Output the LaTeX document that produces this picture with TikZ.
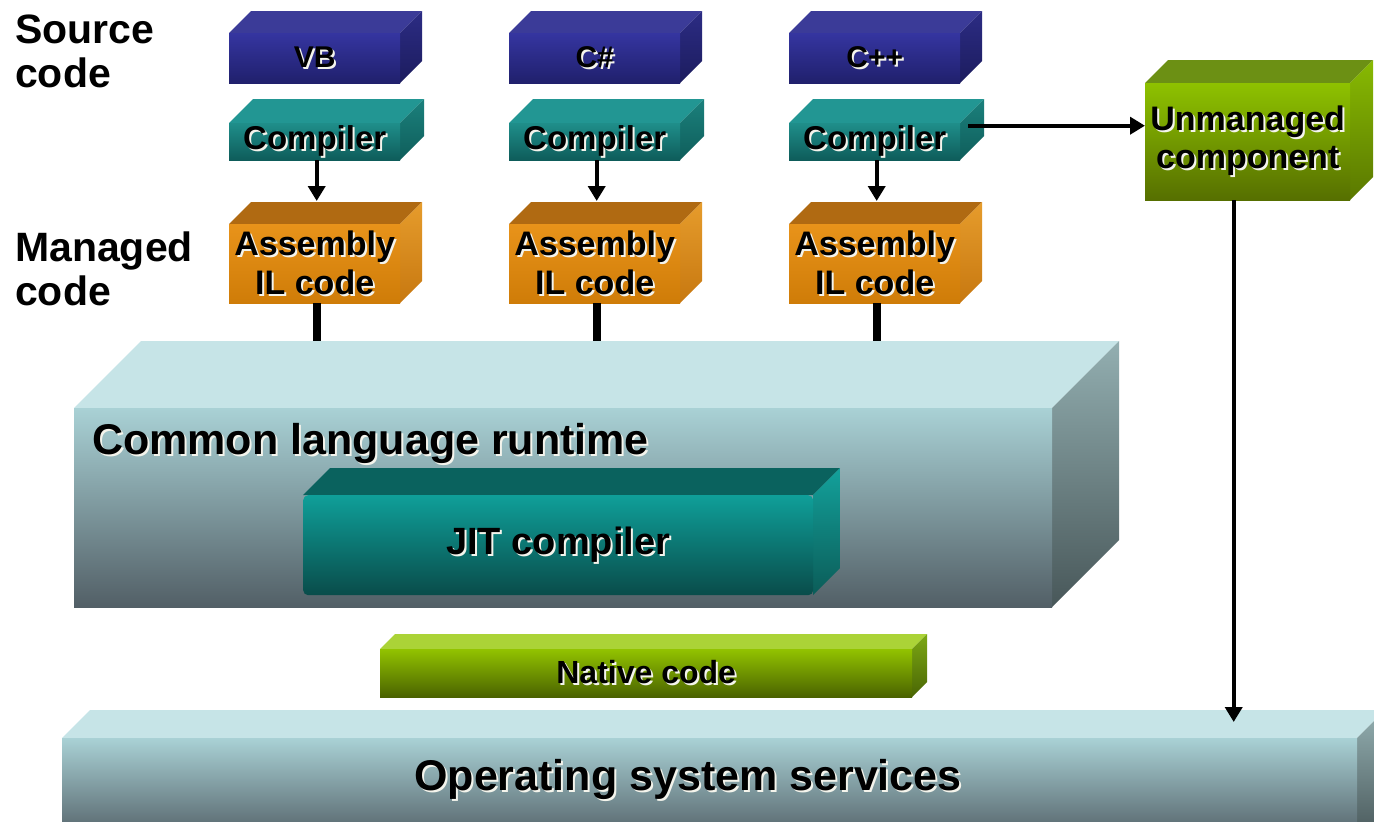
\documentclass[tikz,border=0pt]{standalone}
\usepackage{fontspec}
\setmainfont{Liberation Sans}
\usetikzlibrary{arrows.meta,calc}
\definecolor{shadowc}{HTML}{F4F4EC}
\definecolor{navyT}{HTML}{3B3B98}
\definecolor{navyS1}{HTML}{2C2C84}
\definecolor{navyS2}{HTML}{1C1C5E}
\definecolor{navyF1}{HTML}{3535A0}
\definecolor{navyF2}{HTML}{20206C}
\definecolor{tealT}{HTML}{229693}
\definecolor{tealS1}{HTML}{1B807C}
\definecolor{tealS2}{HTML}{0F5E5B}
\definecolor{tealF1}{HTML}{1F8E8A}
\definecolor{tealF2}{HTML}{0E5C5A}
\definecolor{orgT}{HTML}{B06A12}
\definecolor{orgS1}{HTML}{E69C2C}
\definecolor{orgS2}{HTML}{C77810}
\definecolor{orgF1}{HTML}{E8931A}
\definecolor{orgF2}{HTML}{CF7C08}
\definecolor{limeT}{HTML}{6C9014}
\definecolor{limeS1}{HTML}{88BA02}
\definecolor{limeS2}{HTML}{5A7800}
\definecolor{limeF1}{HTML}{8EC200}
\definecolor{limeF2}{HTML}{566F00}
\definecolor{clrT}{HTML}{C6E4E7}
\definecolor{clrS1}{HTML}{93AFB1}
\definecolor{clrS2}{HTML}{485759}
\definecolor{clrF1}{HTML}{A9D1D5}
\definecolor{clrF2}{HTML}{525F66}
\definecolor{jitT}{HTML}{0A625E}
\definecolor{jitS1}{HTML}{13A19B}
\definecolor{jitS2}{HTML}{0B5C58}
\definecolor{jitF1}{HTML}{0F9F99}
\definecolor{jitF2}{HTML}{094C4A}
\definecolor{natT}{HTML}{ABD337}
\definecolor{natS1}{HTML}{7CA814}
\definecolor{natS2}{HTML}{4A6604}
\definecolor{natF1}{HTML}{92C300}
\definecolor{natF2}{HTML}{4A6200}
\newcommand{\sh}[1]{\makebox[0pt][l]{\hspace{2pt}\raisebox{-2pt}{\color{shadowc}#1}}#1}
% #1 name, #2 x1, #3 y1, #4 x2, #5 y2 (front face, pixels, y down), #6 depth, #7 kind, #8 text
\newcommand{\cuboid}[8]{%
  \path[#7top] (#2,-#3) -- ({#2+#6},{-#3+#6}) -- ({#4+#6},{-#3+#6}) -- (#4,-#3) -- cycle;
  \path[#7side] (#4,-#3) -- ({#4+#6},{-#3+#6}) -- ({#4+#6},{-#5+#6}) -- (#4,-#5) -- cycle;
  \node[#7front, anchor=north west, inner sep=0pt, align=center,
        minimum width={(#4-#2)*1pt}, minimum height={(#5-#3)*1pt}] (#1) at (#2,-#3) {#8};
}
\tikzset{
  navytop/.style={fill=navyT},
  navyside/.style={top color=navyS1, bottom color=navyS2},
  navyfront/.style={top color=navyF1, bottom color=navyF2, font=\bfseries\fontsize{30}{34}\selectfont},
  tealtop/.style={fill=tealT},
  tealside/.style={top color=tealS1, bottom color=tealS2},
  tealfront/.style={top color=tealF1, bottom color=tealF2, font=\bfseries\fontsize{33}{38}\selectfont},
  orgtop/.style={fill=orgT},
  orgside/.style={top color=orgS1, bottom color=orgS2},
  orgfront/.style={top color=orgF1, bottom color=orgF2, font=\bfseries\fontsize{34}{39}\selectfont},
  limetop/.style={fill=limeT},
  limeside/.style={top color=limeS1, bottom color=limeS2},
  limefront/.style={top color=limeF1, bottom color=limeF2, font=\bfseries\fontsize{34}{38}\selectfont},
  clrtop/.style={fill=clrT},
  clrside/.style={top color=clrS1, bottom color=clrS2},
  clrfront/.style={top color=clrF1, bottom color=clrF2},
  jittop/.style={fill=jitT},
  jitside/.style={top color=jitS1, bottom color=jitS2},
  jitfront/.style={top color=jitF1, bottom color=jitF2, rounded corners=5pt, font=\bfseries\fontsize{38}{42}\selectfont},
  nattop/.style={fill=natT},
  natside/.style={top color=natS1, bottom color=natS2},
  natfront/.style={top color=natF1, bottom color=natF2, font=\bfseries\fontsize{32}{36}\selectfont},
  sidelabel/.style={font=\bfseries\fontsize{41}{44}\selectfont, align=left, anchor=west, inner sep=0pt},
  biglabel/.style={font=\bfseries\fontsize{43}{46}\selectfont, inner sep=0pt},
  arr/.style={line width=4pt, -{Triangle[length=15pt,width=17pt]}},
  bar/.style={line width=8pt},
}
\begin{document}
\begin{tikzpicture}[x=1pt,y=1pt]
\clip (0,0) rectangle (1374,-822);
\fill[white] (0,0) rectangle (1374,-822);

% side labels
\node[sidelabel] (src) at (15,-51) {Source\\code};
\node[sidelabel] (mng) at (15,-269) {Managed\\code};

% lower layers
\cuboid{os}{62}{738}{1357}{840}{28}{clr}{}
\node[biglabel] (oslabel) at (688,-780) {\sh{Operating system services}};
\cuboid{nat}{380}{649}{912}{697}{15}{nat}{\sh{Native code}}
\cuboid{clr}{74}{408}{1052}{607}{67}{clr}{}
\node[biglabel, anchor=west] (clrlabel) at (92,-444) {\sh{Common language runtime}};
\cuboid{jit}{303}{495}{813}{595}{27}{jit}{\sh{JIT compiler}}
\coordinate (clrtop) at (0,-341);

% columns
\cuboid{svb}{229}{33}{400}{83}{22}{navy}{\sh{VB}}
\cuboid{scs}{509}{33}{680}{83}{22}{navy}{\sh{C\#}}
\cuboid{scp}{789}{33}{960}{83}{22}{navy}{\sh{C++}}
\cuboid{cvb}{229}{123}{400}{160}{24}{teal}{\raisebox{-5pt}{\sh{Compiler}}}
\cuboid{ccs}{509}{123}{680}{160}{24}{teal}{\raisebox{-5pt}{\sh{Compiler}}}
\cuboid{ccp}{789}{123}{960}{160}{24}{teal}{\raisebox{-5pt}{\sh{Compiler}}}
\cuboid{avb}{229}{224}{400}{303}{22}{org}{\sh{Assembly}\\\sh{IL code}}
\cuboid{acs}{509}{224}{680}{303}{22}{org}{\sh{Assembly}\\\sh{IL code}}
\cuboid{acp}{789}{224}{960}{303}{22}{org}{\sh{Assembly}\\\sh{IL code}}
\cuboid{um}{1145}{83}{1350}{200}{23}{lime}{\sh{Unmanaged}\\\sh{component}}

% connectors
\foreach \c/\a in {cvb/avb, ccs/acs, ccp/acp}{
  \draw[arr] ([xshift=2pt]\c.south) -- ($(\a.north)+(2,23)$);
  \draw[bar] ([xshift=2pt]\a.south) -- ($(\a.south |- clrtop)+(2,0)$);
}
\draw[arr] ($(ccp.east)+(8,16)$) coordinate (hs) -- (hs -| um.west);
\draw[arr] ([xshift=-14pt]um.south) coordinate (vs) -- ($(vs |- os.north)+(0,16)$);
\end{tikzpicture}
\end{document}
